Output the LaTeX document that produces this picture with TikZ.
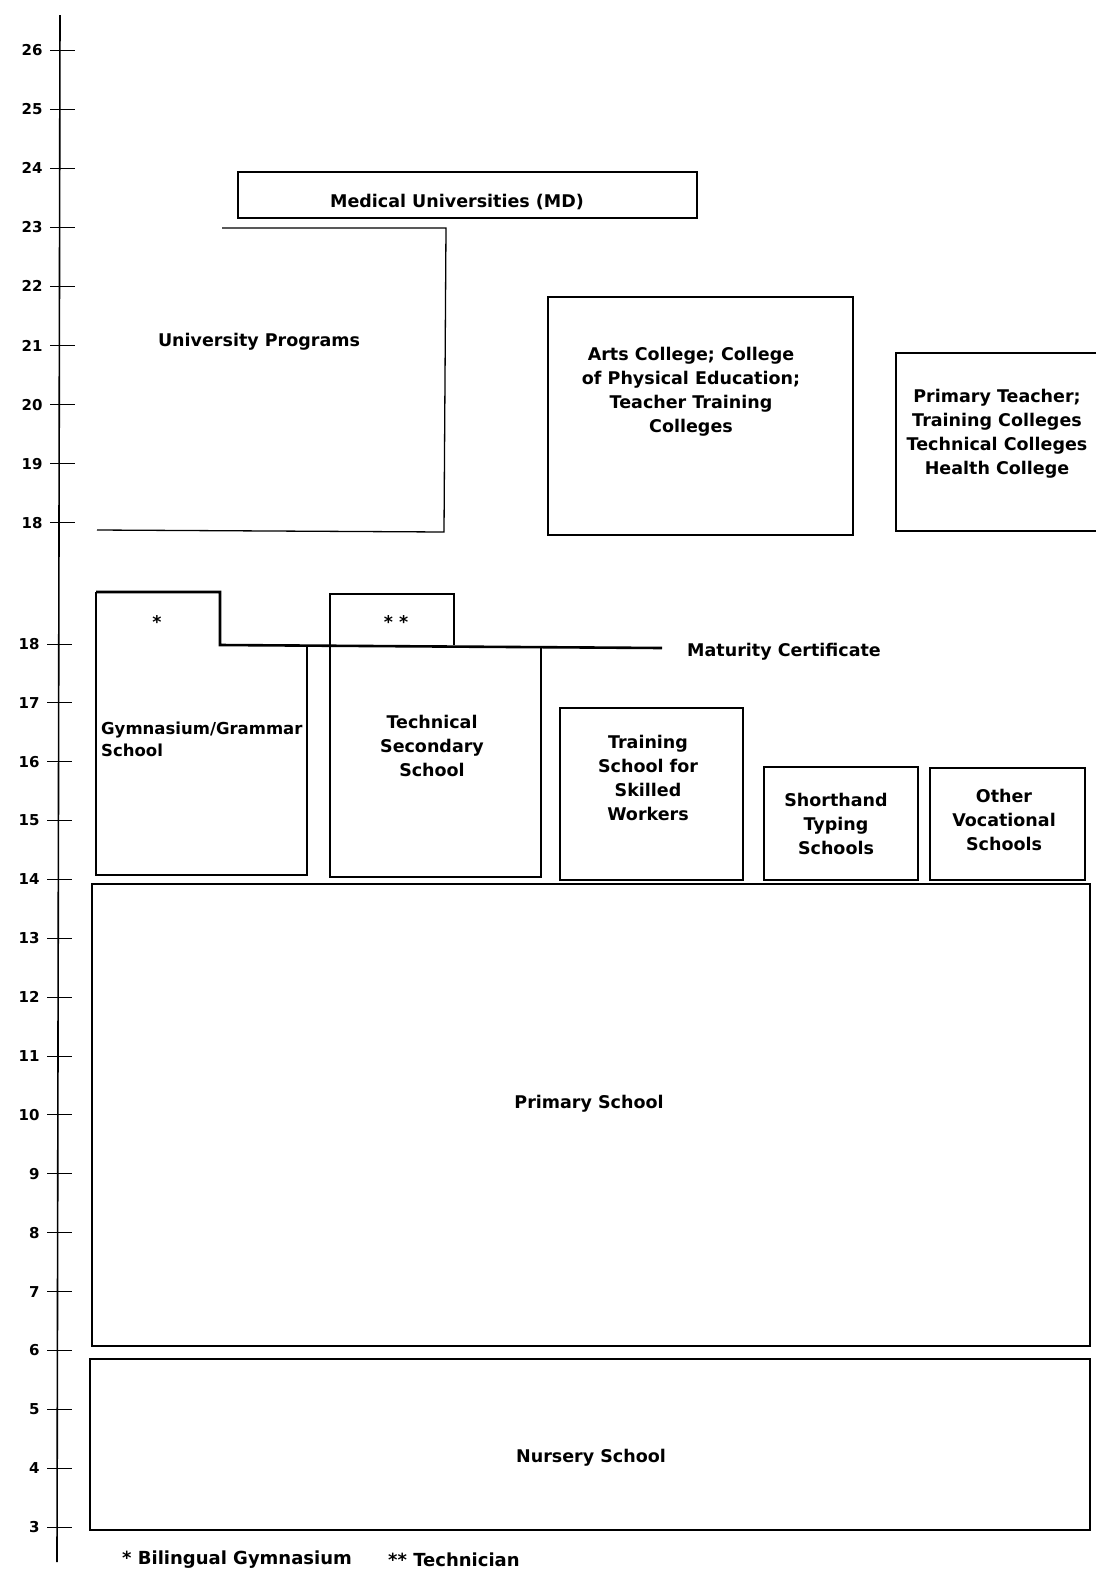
\documentclass[tikz,border=0pt]{standalone}
\usepackage{fontspec}
\setmainfont{DejaVu Sans}

\begin{document}
\begin{tikzpicture}[x=1pt,y=-1pt,
  box/.style={line width=1.3pt},
  txt/.style={font=\bfseries\fontsize{17.5}{24}\selectfont, align=center, inner sep=0pt, yshift=-2.5pt},
  num/.style={font=\bfseries\fontsize{15}{16}\selectfont, anchor=east, inner sep=0pt}]
\useasboundingbox (0,0) rectangle (1096,1569);

% age axis
\draw[line width=1.6pt] (60,15) -- (57,1562);
\foreach \n in {18,...,26}
  \draw[line width=1pt] (50,{50+(26-\n)*59.1}) -- (75,{50+(26-\n)*59.1})
    node[num] at (43,{50+(26-\n)*59.1}) {\n};
\foreach \n in {3,...,18}
  \draw[line width=1pt] (47,{644+(18-\n)*58.87}) -- (72,{644+(18-\n)*58.87})
    node[num] at (40,{644+(18-\n)*58.87}) {\n};

% higher education
\draw[box] (238,172) rectangle (697,218);
\node[txt] (med) at (457,200) {Medical Universities (MD)};

\draw[box] (222,228) -- (446,228) -- (444,532) -- (97,530);
\node[txt] (uni) at (259,339) {University Programs};

\draw[box] (548,297) rectangle (853,535);
\node[txt] (arts) at (691,389) {Arts College; College\\of Physical Education;\\Teacher Training\\Colleges};

\draw[box] (1096,353) -- (896,353) -- (896,531) -- (1096,531);
\node[txt] (prim) at (997,431) {Primary Teacher;\\Training Colleges\\Technical Colleges\\Health College};

% secondary schools
\draw[box] (307,645) -- (307,875) -- (96,875) -- (96,592);
\draw[line width=2.6pt] (96,592) -- (220,592) -- (220,645) -- (662,648);
\node[txt] (star) at (157,619) {*};
\node[txt, align=left, anchor=west, font=\bfseries\fontsize{16.5}{22}\selectfont] (gym) at (101,737) {Gymnasium/Grammar\\School};

\draw[box] (454,645) -- (454,594) -- (330,594) -- (330,877) -- (541,877) -- (541,648);
\node[txt] (stars) at (396,619) {* *};
\node[txt] (tech) at (432,743) {Technical\\Secondary\\School};

\node[txt, anchor=west] (mat) at (687,649) {Maturity Certificate};

\draw[box] (560,708) rectangle (743,880);
\node[txt] (train) at (648,775) {Training\\School for\\Skilled\\Workers};

\draw[box] (764,767) rectangle (918,880);
\node[txt] (short) at (836,821) {Shorthand\\Typing\\Schools};

\draw[box] (930,768) rectangle (1085,880);
\node[txt] (voc) at (1004,817) {Other\\Vocational\\Schools};

% primary and nursery
\draw[box] (92,884) rectangle (1090,1346);
\node[txt] (prims) at (589,1101) {Primary School};

\draw[box] (90,1359) rectangle (1090,1530);
\node[txt] (nurs) at (591,1455) {Nursery School};

% footnotes
\node[txt, anchor=west, font=\bfseries\fontsize{18}{20}\selectfont] (fn1) at (122,1557) {* Bilingual Gymnasium};
\node[txt, anchor=west, font=\bfseries\fontsize{18}{20}\selectfont] (fn2) at (388,1557) {** Technician};
\end{tikzpicture}
\end{document}
